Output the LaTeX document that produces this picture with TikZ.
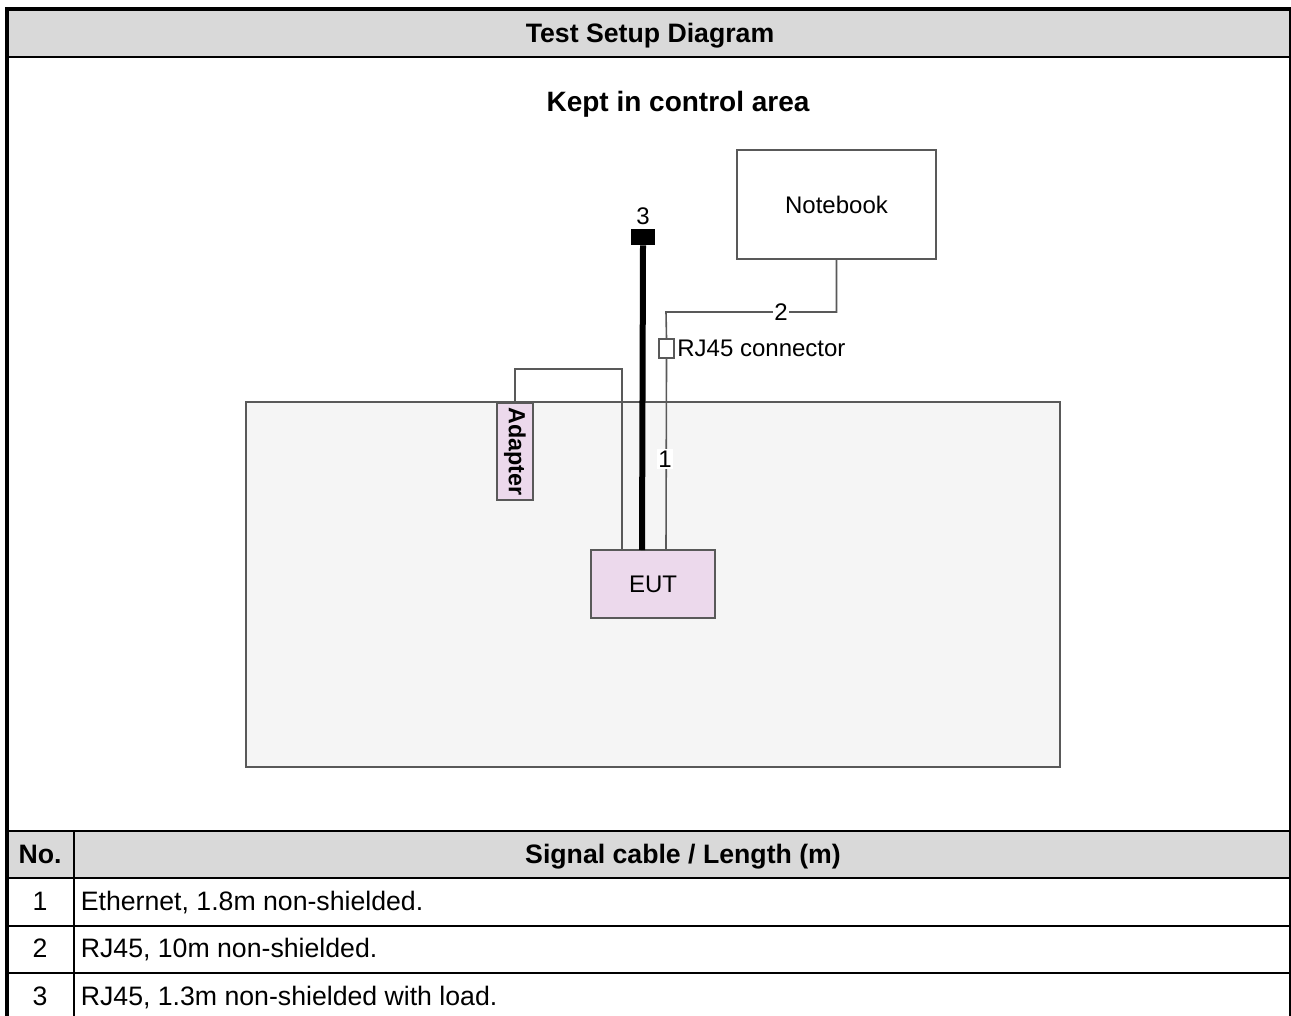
\documentclass[tikz,border=0pt]{standalone}
\usepackage{fontspec}
\setmainfont{Liberation Sans}
\usetikzlibrary{positioning}

\begin{document}
\begin{tikzpicture}[x=0.75pt,y=-0.75pt,semithick,font=\fontsize{18}{21}\selectfont]
                \tikzstyle{box}=[draw=black!65,line width=1.5pt,inner sep=0pt]
                \tikzstyle{part}=[box,fill=violet!15!white]
                \tikzstyle{cable}=[draw=black!65,line width=1.2pt]
                \tikzstyle{num}=[fill=white,inner sep=1pt]
                \tikzstyle{rule}=[line width=1.6pt]
                \tikzstyle{head}=[font=\fontsize{20}{24}\selectfont\bfseries,text height=0.72em,text depth=0.1em]
                \tikzstyle{cell}=[font=\fontsize{20}{24}\selectfont,text height=0.72em,text depth=0.1em]
                \useasboundingbox (0,0) rectangle (1291,1016);

                % frame and table
                \fill[black!15] (9,11) rectangle (1290,57);
                \fill[black!15] (9,831) rectangle (1290,878);
                \draw[line width=3pt] (7,1016) -- (7,9) -- (1291,9);
                \draw[rule] (1290,9) -- (1290,1016);
                \foreach \y in {57,831,878,926,973}
                    \draw[rule] (9,\y) -- (1291,\y);
                \draw[line width=1pt] (74,831) -- (74,1016);
                \node[head] (title) at (650,38) {Test Setup Diagram};
                \node[head] (hno)   at (40,859) {No.};
                \node[head] (hsig)  at (683,859) {Signal cable / Length (m)};
                \node[cell] (n1) at (40,906) {1};
                \node[cell] (n2) at (40,953) {2};
                \node[cell] (n3) at (40,1001) {3};
                \node[cell,anchor=west] (t1) at (76,906) {Ethernet, 1.8m non-shielded.};
                \node[cell,anchor=west] (t2) at (76,953) {RJ45, 10m non-shielded.};
                \node[cell,anchor=west] (t3) at (76,1001) {RJ45, 1.3m non-shielded with load.};

                % setup
                \node[head,font=\fontsize{21}{24}\selectfont\bfseries] (area) at (678,107) {Kept in control area};
                \draw[box,fill=black!4] (246,402) rectangle (1060,767);
                \node[box,fill=white,minimum width=149.25pt,minimum height=81.75pt] (nb) at (836.5,204.5) {Notebook};
                \node[part,minimum width=93pt,minimum height=51pt] (eut) at (653,584) {EUT};
                \node[part,rotate=-90,minimum width=72.75pt,minimum height=27pt,font=\fontsize{17.5}{20}\selectfont\bfseries] (adp) at (515,451.5) {Adapter};
                \node[box,fill=white,minimum width=11.25pt,minimum height=14.25pt] (rj) at (666.5,348.5) {};
                \node[anchor=west,inner sep=1.5pt] (rjt) at (rj.east) {RJ45 connector};
                \node[fill=black,inner sep=0pt,minimum width=18pt,minimum height=12pt] (load) at (643,237) {};
                \node (l3) [above=-1pt of load] {3};
                \coordinate (ea) at (622,550);
                \coordinate (ec) at (642,550);
                \coordinate (eb) at (666,550);

                \draw[cable] (adp.west) -- (515,369) -| (ea);
                \draw[line width=4.5pt] (ec) -- (load.south);
                \draw[cable] (eb) -- (rj.south);
                \draw[cable] (rj.north) -- (666,312) -| (nb.south);
                \node[num] (c1) at (665,459) {1};
                \node[num] (c2) at (781,312) {2};
            \end{tikzpicture}
\end{document}
